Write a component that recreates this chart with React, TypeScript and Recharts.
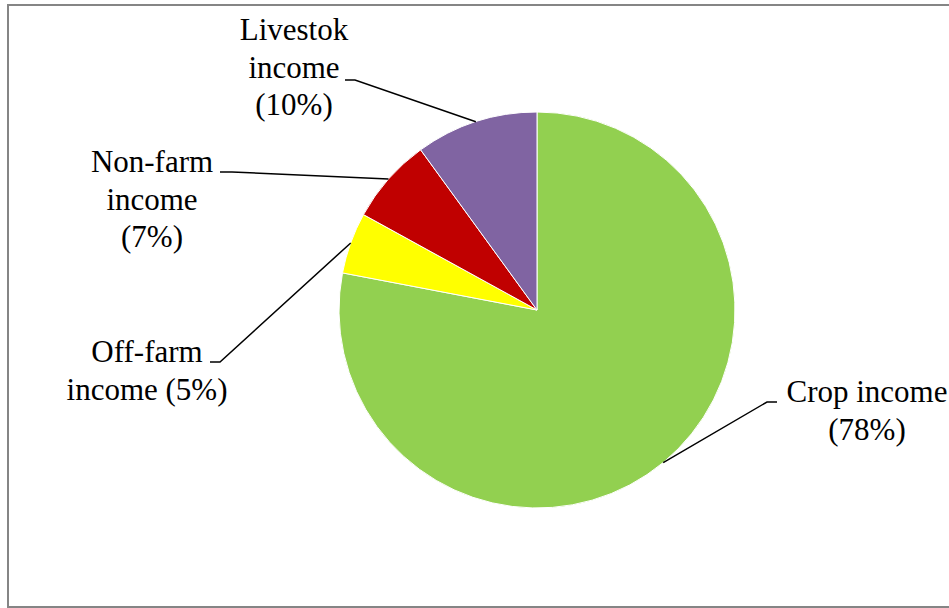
import React from "react";
import { PieChart, Pie, Cell } from "recharts";

const categories = ["Crop income", "Off-farm income", "Non-farm income", "Livestok income"];
const shares = [78, 5, 7, 10];
const labelLines = [
  ["Crop income", "(78%)"],
  ["Off-farm", "income (5%)"],
  ["Non-farm", "income", "(7%)"],
  ["Livestok", "income", "(10%)"],
];
const colors = ["#92D050", "#FFFF00", "#C00000", "#8064A2"];

// label placement relative to the pie centre (layout only)
const labelLayout = [
  { elbow: [230, 92], tail: [240, 92], textX: 330, baseY: 92 },
  { elbow: [-317, 52], tail: [-327, 52], textX: -390, baseY: 52 },
  { elbow: [-305, -138], tail: [-317, -138], textX: -385, baseY: -138 },
  { elbow: [-182, -230], tail: [-192, -230], textX: -243, baseY: -270 },
];

const data = categories.map((name, i) => ({ name, value: shares[i] }));

const FONT = "'Times New Roman', Times, 'Liberation Serif', Tinos, 'Nimbus Roman', 'DejaVu Serif', serif";
const LINE_H = 37.5;

const renderLabel = (props: any) => {
  const { cx, cy, midAngle, outerRadius, index } = props;
  const rad = (Math.PI / 180) * midAngle;
  const ex = cx + outerRadius * Math.cos(rad);
  const ey = cy - outerRadius * Math.sin(rad);
  const L = labelLayout[index];
  const lines = labelLines[index];
  return (
    <g key={`lbl-${index}`}>
      <polyline
        points={`${ex},${ey} ${cx + L.elbow[0]},${cy + L.elbow[1]} ${cx + L.tail[0]},${cy + L.tail[1]}`}
        fill="none"
        stroke="#000"
        strokeWidth={1.5}
      />
      <text
        x={cx + L.textX}
        y={cy + L.baseY}
        textAnchor="middle"
        style={{ fontFamily: FONT, fontSize: 31 }}
        fill="#000"
      >
        {lines.map((t, j) => (
          <tspan key={j} x={cx + L.textX} y={cy + L.baseY + j * LINE_H}>
            {t}
          </tspan>
        ))}
      </text>
    </g>
  );
};

export default function App() {
  return (
    <div
      style={{
        position: "absolute",
        left: 7,
        top: 4,
        width: 942,
        height: 604,
        boxSizing: "border-box",
        borderTop: "2px solid #858585",
        borderLeft: "2px solid #858585",
        borderBottom: "2px solid #858585",
        background: "#fff",
        fontFamily: FONT,
      }}
    >
      <PieChart width={940} height={600} margin={{ top: 0, right: 0, bottom: 0, left: 0 }}>
        <Pie
          data={data}
          dataKey="value"
          nameKey="name"
          cx={528}
          cy={304}
          outerRadius={198}
          startAngle={90}
          endAngle={-270}
          stroke="#fff"
          strokeWidth={1}
          label={renderLabel}
          labelLine={false}
          isAnimationActive={false}
        >
          {data.map((d, i) => (
            <Cell key={d.name} fill={colors[i]} />
          ))}
        </Pie>
      </PieChart>
    </div>
  );
}
